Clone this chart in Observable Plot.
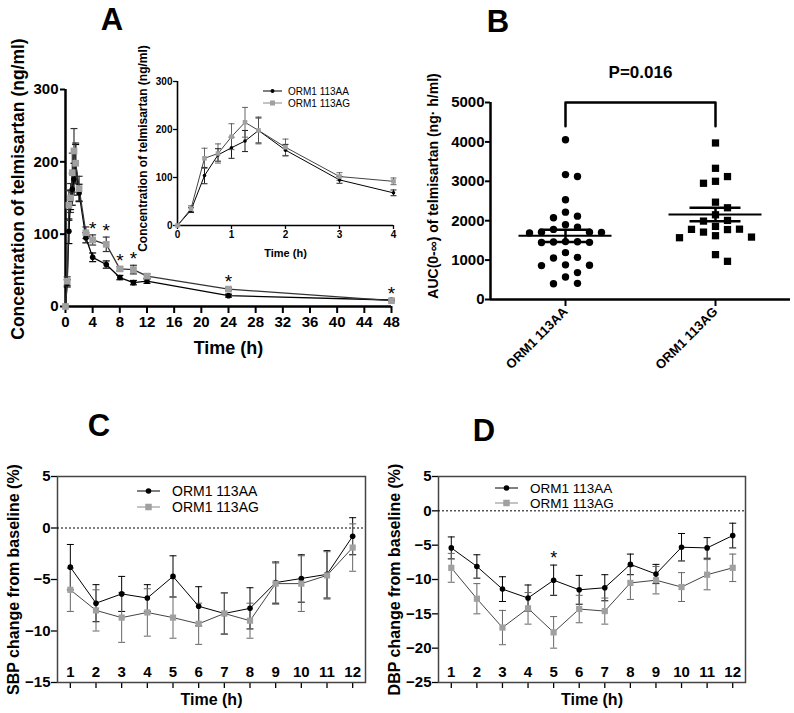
<!DOCTYPE html>
<html><head><meta charset="utf-8">
<script src="https://cdn.jsdelivr.net/npm/d3@7"></script>
<script src="https://cdn.jsdelivr.net/npm/@observablehq/plot@0.6"></script>
<style>
body{margin:0;background:#fff;}
#fig{position:relative;width:794px;height:713px;overflow:hidden;background:#fff;font-family:"Liberation Sans",Arial,sans-serif;}
.p{position:absolute;}
#ov{position:absolute;left:0;top:0;pointer-events:none;}
</style></head><body><div id="fig"></div>
<script>
// ---------------- data ----------------
const groups = ["ORM1 113AA", "ORM1 113AG"];

// Panel A: telmisartan concentration (ng/ml), mean and SEM
const timeA = [0, 0.25, 0.5, 0.75, 1, 1.25, 1.5, 2, 3, 4, 6, 8, 10, 12, 24, 48];
const concAA = [0, 32, 104, 147, 162, 176, 198, 157, 95, 68, 58, 40, 33, 35, 15, 9];
const semAA  = [0, 5, 17, 13, 22, 22, 26, 12, 7, 6, 5, 3, 3, 3, 2, 1];
const concAG = [0, 35, 140, 150, 185, 215, 198, 163, 102, 92, 86, 52, 51, 42, 24, 8];
const semAG  = [0, 6, 21, 20, 27, 31, 28, 17, 8, 7, 10, 3, 6, 3, 2, 1];
const starTimesA = [4, 6, 8, 10, 24, 48];
const ticksAx = [0, 4, 8, 12, 16, 20, 24, 28, 32, 36, 40, 44, 48];
const ticksAy = [0, 100, 200, 300];
const insetMaxTime = 4;
const ticksInsetX = [0, 1, 2, 3, 4];

// Panel B: AUC(0-inf) of telmisartan (ng·h/ml) per subject
const aucAA = [4056, 3170, 3120, 2530, 2217, 2116, 2075, 1898, 1837, 1779, 1710, 1700, 1690, 1705,
               1470, 1450, 1460, 1445, 1465, 1189, 1070, 1055, 880, 860, 870, 683, 572, 410, 400];
const aucAG = [3973, 3330, 3120, 3000, 2950, 2470, 2328, 2150, 2007, 1990, 1855, 1785, 1775, 1780,
               1711, 1619, 1584, 1568, 1139, 969];
const ticksBy = [0, 1000, 2000, 3000, 4000, 5000];
const bracketLow = 4400, bracketHigh = 5000;
const pLabel = "P=0.016";

// Panels C & D: blood pressure change from baseline (%), mean and SEM
const hours = [1, 2, 3, 4, 5, 6, 7, 8, 9, 10, 11, 12];
const sbpAA  = [-3.8, -7.3, -6.4, -6.8, -4.7, -7.6, -8.3, -7.8, -5.3, -4.9, -4.5, -0.8];
const sbpAAe = [2.2, 1.8, 1.7, 1.3, 2.0, 1.9, 2.0, 2.0, 2.0, 2.3, 2.3, 1.8];
const sbpAG  = [-6.0, -8.0, -8.7, -8.2, -8.7, -9.3, -8.3, -9.0, -5.4, -5.4, -4.6, -1.9];
const sbpAGe = [2.1, 2.0, 2.4, 2.3, 2.0, 2.0, 2.0, 1.7, 2.0, 2.7, 2.3, 2.3];
const ticksCy = [5, 0, -5, -10, -15];

const dbpAA  = [-5.4, -8.1, -11.4, -12.7, -10.1, -11.5, -11.2, -7.8, -9.2, -5.3, -5.4, -3.6];
const dbpAAe = [1.6, 1.7, 1.8, 1.9, 2.2, 2.1, 1.9, 1.5, 1.4, 2.0, 1.5, 1.8];
const dbpAG  = [-8.3, -12.8, -17.0, -14.2, -17.7, -14.3, -14.6, -10.5, -10.1, -11.1, -9.3, -8.3];
const dbpAGe = [2.1, 2.2, 2.5, 2.3, 2.3, 2.0, 1.9, 2.4, 2.0, 2.1, 2.2, 2.0];
const starHoursD = [5];
const ticksDy = [5, 0, -5, -10, -15, -20, -25];

// ---------------- helpers ----------------
const FONT = "'Liberation Sans', Arial, sans-serif";
const STYLE = `font-family:${FONT};font-weight:bold;overflow:visible;background:transparent;`;
const GRAY = "#a0a0a0";
const fmtInt = d3.format("d");
const fig = document.getElementById("fig");
function place(el, left, top) {
  const d = document.createElement("div");
  d.className = "p"; d.style.left = left + "px"; d.style.top = top + "px";
  d.appendChild(el); fig.appendChild(d);
}
const capSym = {draw(ctx, size) { const w = Math.sqrt(size / Math.PI); ctx.moveTo(-w, 0); ctx.lineTo(w, 0); }};
function rowsOf(t, aa, aaE, ag, agE) {
  return t.map((x, i) => ({t: x, aa: aa[i], aaE: aaE[i], ag: ag[i], agE: agE[i]}));
}
function yLabelMark(label, dx, dy, fontSize) {
  return Plot.text([label], {frameAnchor: "left", rotate: -90, textAnchor: "middle", lineAnchor: "middle", dx, dy, fontSize});
}
function xLabelMark(label, dy, fontSize) {
  return Plot.text([label], {frameAnchor: "bottom", lineAnchor: "middle", textAnchor: "middle", dy, fontSize});
}
function seriesMarks(rows, o) {
  const m = [];
  for (const [k, ke, col] of [["aa", "aaE", "#000"], ["ag", "agE", o.agErr]]) {
    m.push(Plot.ruleX(rows, {x: "t", y1: d => d[k] - d[ke], y2: d => d[k] + d[ke], stroke: col, strokeWidth: o.errW}));
    m.push(Plot.dot(rows, {x: "t", y: d => d[k] + d[ke], symbol: capSym, r: o.capR, stroke: col, fill: "none", strokeWidth: o.errW}));
    m.push(Plot.dot(rows, {x: "t", y: d => d[k] - d[ke], symbol: capSym, r: o.capR, stroke: col, fill: "none", strokeWidth: o.errW}));
  }
  m.push(Plot.line(rows, {x: "t", y: "aa", stroke: "#000", strokeWidth: o.lineW}));
  m.push(Plot.line(rows, {x: "t", y: "ag", stroke: o.agLine, strokeWidth: o.lineW}));
  m.push(Plot.dot(rows, {x: "t", y: "aa", r: o.aaR, fill: "#000", stroke: "none"}));
  m.push(Plot.dot(rows, {x: "t", y: "ag", symbol: "square", r: o.agR, fill: GRAY, stroke: "none"}));
  return m;
}

// ---------------- Panel A (main) ----------------
const rowsA = rowsOf(timeA, concAA, semAA, concAG, semAG);
const plotA = Plot.plot({
  width: 400, height: 350,
  marginLeft: 65, marginRight: 9, marginTop: 69, marginBottom: 64,
  style: STYLE,
  x: {domain: [0, 48]}, y: {domain: [0, 300]},
  marks: [
    Plot.axisY({ticks: ticksAy, tickFormat: fmtInt, tickSize: 5, tickPadding: 2, fontSize: 15, fontWeight: "bold", strokeWidth: 2, label: null}),
    Plot.axisX({ticks: ticksAx, tickFormat: fmtInt, tickSize: 7, tickPadding: 3, fontSize: 15, fontWeight: "bold", strokeWidth: 2, label: null}),
    Plot.ruleX([0], {strokeWidth: 2.5}),
    Plot.ruleY([0], {strokeWidth: 2.5}),
    ...seriesMarks(rowsA, {capR: 3.5, errW: 1.2, lineW: 1.3, aaR: 2.8, agR: 3.8, agErr: "#333", agLine: "#333"}),
    Plot.text(rowsA.filter(d => starTimesA.includes(d.t)), {x: "t", y: d => d.ag + d.agE, text: () => "*", fontSize: 19, fontWeight: "normal", dy: -6}),
    xLabelMark("Time (h)", 42, 18),
    yLabelMark("Concentration of telmisartan (ng/ml)", -47, -9, 17.5)
  ]
});
place(plotA, 0, 20);

// ---------------- Panel A (inset) ----------------
const rowsInset = rowsA.filter(d => d.t <= insetMaxTime);
const plotInset = Plot.plot({
  width: 270, height: 235,
  marginLeft: 47, marginRight: 7, marginTop: 51, marginBottom: 40,
  style: STYLE,
  x: {domain: [0, insetMaxTime]}, y: {domain: [0, 300]},
  marks: [
    Plot.axisY({ticks: ticksAy, tickFormat: fmtInt, tickSize: 4, tickPadding: 1, fontSize: 10, fontWeight: "bold", strokeWidth: 1.3, label: null}),
    Plot.axisX({ticks: ticksInsetX, tickFormat: fmtInt, tickSize: 4, tickPadding: 1, fontSize: 10, fontWeight: "bold", strokeWidth: 1.3, label: null}),
    Plot.ruleX([0], {strokeWidth: 1.6}),
    Plot.ruleY([0], {strokeWidth: 1.6}),
    ...seriesMarks(rowsInset, {capR: 3, errW: 0.9, lineW: 1, aaR: 1.8, agR: 2.6, agErr: "#555", agLine: "#444"}),
    xLabelMark("Time (h)", 28, 11),
    yLabelMark("Concentration of telmisartan (ng/ml)", -34, -5, 12)
  ]
});
place(plotInset, 130, 30);

// ---------------- Panel B ----------------
const pxPerAuc = 197.3 / 5000, stepPx = 12, unitPx = 150;
function swarm(values) {
  const order = d3.range(values.length).sort((i, j) => values[j] - values[i]);
  const placed = [], off = new Array(values.length);
  for (const i of order) {
    const y = values[i] * pxPerAuc;
    for (let k = 0; ; k++) {
      const o = k === 0 ? 0 : (k % 2 ? (k + 1) / 2 : -k / 2);
      const x = o * stepPx;
      if (placed.every(p => Math.hypot(p.x - x, p.y - y) >= 9)) { placed.push({x, y}); off[i] = o; break; }
    }
  }
  return off;
}
const offAA = swarm(aucAA), offAG = swarm(aucAG);
const dotsAA = aucAA.map((v, i) => ({x: 1 + offAA[i] * stepPx / unitPx, v}));
const dotsAG = aucAG.map((v, i) => ({x: 2 + offAG[i] * stepPx / unitPx, v}));
const stats = [aucAA, aucAG].map((vals, i) => {
  const m = d3.mean(vals), s = d3.deviation(vals) / Math.sqrt(vals.length);
  return {g: i + 1, m, lo: m - s, hi: m + s};
});
const bracket = [{x: 1, y: bracketLow}, {x: 1, y: bracketHigh}, {x: 2, y: bracketHigh}, {x: 2, y: bracketLow}];
const plotB = Plot.plot({
  width: 374, height: 330,
  marginLeft: 70, marginRight: 4, marginTop: 47, marginBottom: 86,
  style: STYLE,
  x: {domain: [0.5, 2.5]}, y: {domain: [0, 5000]},
  marks: [
    Plot.axisY({ticks: ticksBy, tickFormat: fmtInt, tickSize: 5, tickPadding: 1, fontSize: 15, fontWeight: "bold", strokeWidth: 2, label: null}),
    Plot.axisX({ticks: [1, 2], tickFormat: i => groups[i - 1], tickRotate: -45, tickSize: 7, tickPadding: 3, fontSize: 13, fontWeight: "bold", strokeWidth: 2, label: null}),
    Plot.ruleX([0.5], {strokeWidth: 2.5}),
    Plot.ruleY([0], {strokeWidth: 2.5}),
    Plot.line(bracket, {x: "x", y: "y", strokeWidth: 2.5}),
    Plot.text([pLabel], {x: 1.5, y: bracketHigh, dy: -30, fontSize: 17}),
    Plot.dot(dotsAA, {x: "x", y: "v", r: 3.7, fill: "#000", stroke: "none"}),
    Plot.dot(dotsAG, {x: "x", y: "v", symbol: "square", r: 4.1, fill: "#000", stroke: "none"}),
    Plot.ruleY(stats, {y: "m", x1: d => d.g - 0.31, x2: d => d.g + 0.31, strokeWidth: 2}),
    Plot.ruleY(stats, {y: "hi", x1: d => d.g - 0.17, x2: d => d.g + 0.17, strokeWidth: 2.5}),
    Plot.ruleY(stats, {y: "lo", x1: d => d.g - 0.17, x2: d => d.g + 0.17, strokeWidth: 2.5}),
    Plot.ruleX(stats, {x: "g", y1: "lo", y2: "hi", strokeWidth: 2.5}),
    yLabelMark("AUC(0-\u221E) of telmisartan (ng\u00B7 h/ml)", -57, -15, 14)
  ]
});
place(plotB, 420, 55);

// ---------------- Panels C & D ----------------
function bpPlot({rows, yDomain, yTicks, yLabel, width, marginLeft, marginRight, stars}) {
  return Plot.plot({
    width, height: 273,
    marginLeft, marginRight, marginTop: 36, marginBottom: 31,
    style: STYLE,
    x: {domain: [0.5, 12.5]}, y: {domain: yDomain},
    marks: [
      Plot.axisY({ticks: yTicks, tickFormat: fmtInt, tickSize: 6, tickPadding: 1, fontSize: 15, fontWeight: "bold", strokeWidth: 1.3, label: null}),
      Plot.axisX({ticks: hours, tickSize: 6, tickFormat: () => "", strokeWidth: 1.3, label: null}),
      Plot.frame({stroke: "#444", strokeWidth: 1.5}),
      Plot.ruleY([0], {stroke: "#000", strokeWidth: 1, strokeDasharray: "2,2"}),
      ...seriesMarks(rows, {capR: 3.5, errW: 1, lineW: 1, aaR: 2.8, agR: 3.5, agErr: "#666", agLine: "#444"}),
      Plot.text(rows.filter(d => stars.includes(d.t)), {x: "t", y: d => d.aa + d.aaE, text: () => "*", fontSize: 18, fontWeight: "normal", dy: -7}),
      Plot.text(hours, {x: d => d, frameAnchor: "bottom", lineAnchor: "middle", dy: -10, fontSize: 15}),
      xLabelMark("Time (h)", 17, 16),
      yLabelMark(yLabel, -44, 0, 16)
    ]
  });
}
const plotC = bpPlot({rows: rowsOf(hours, sbpAA, sbpAAe, sbpAG, sbpAGe), yDomain: [-15, 5], yTicks: ticksCy,
  yLabel: "SBP change from baseline (%)", width: 375, marginLeft: 57, marginRight: 10, stars: []});
place(plotC, 0, 440);
const plotD = bpPlot({rows: rowsOf(hours, dbpAA, dbpAAe, dbpAG, dbpAGe), yDomain: [-25, 5], yTicks: ticksDy,
  yLabel: "DBP change from baseline (%)", width: 419, marginLeft: 63, marginRight: 49, stars: starHoursD});
place(plotD, 375, 440);

// ---------------- overlay: panel letters and legends ----------------
const ov = d3.select(fig).append("svg").attr("id", "ov").attr("width", 794).attr("height", 713)
  .style("font-family", FONT);
for (const [t, x, y] of [["A", 112, 30], ["B", 498, 32], ["C", 99, 436], ["D", 484, 441]]) {
  ov.append("text").attr("x", x).attr("y", y).attr("text-anchor", "middle")
    .attr("font-size", 31).attr("font-weight", "bold").text(t);
}
function legend(x0, x1, tx, ys, fs, sq, cr) {
  const mid = (x0 + x1) / 2;
  ov.append("line").attr("x1", x0).attr("x2", x1).attr("y1", ys[0]).attr("y2", ys[0]).attr("stroke", "#000").attr("stroke-width", 1);
  ov.append("circle").attr("cx", mid).attr("cy", ys[0]).attr("r", cr).attr("fill", "#000");
  ov.append("line").attr("x1", x0).attr("x2", x1).attr("y1", ys[1]).attr("y2", ys[1]).attr("stroke", "#888").attr("stroke-width", 1);
  ov.append("rect").attr("x", mid - sq / 2).attr("y", ys[1] - sq / 2).attr("width", sq).attr("height", sq).attr("fill", GRAY);
  groups.forEach((g, i) => ov.append("text").attr("x", tx).attr("y", ys[i]).attr("dominant-baseline", "central")
    .attr("font-size", fs).text(g));
}
legend(263, 282, 288, [91, 103], 10, 5, 2);
legend(137, 160, 172, [491, 507], 14, 6.5, 2.8);
legend(495, 518, 530, [488, 503], 13.5, 6.5, 2.8);
</script>
</body></html>
